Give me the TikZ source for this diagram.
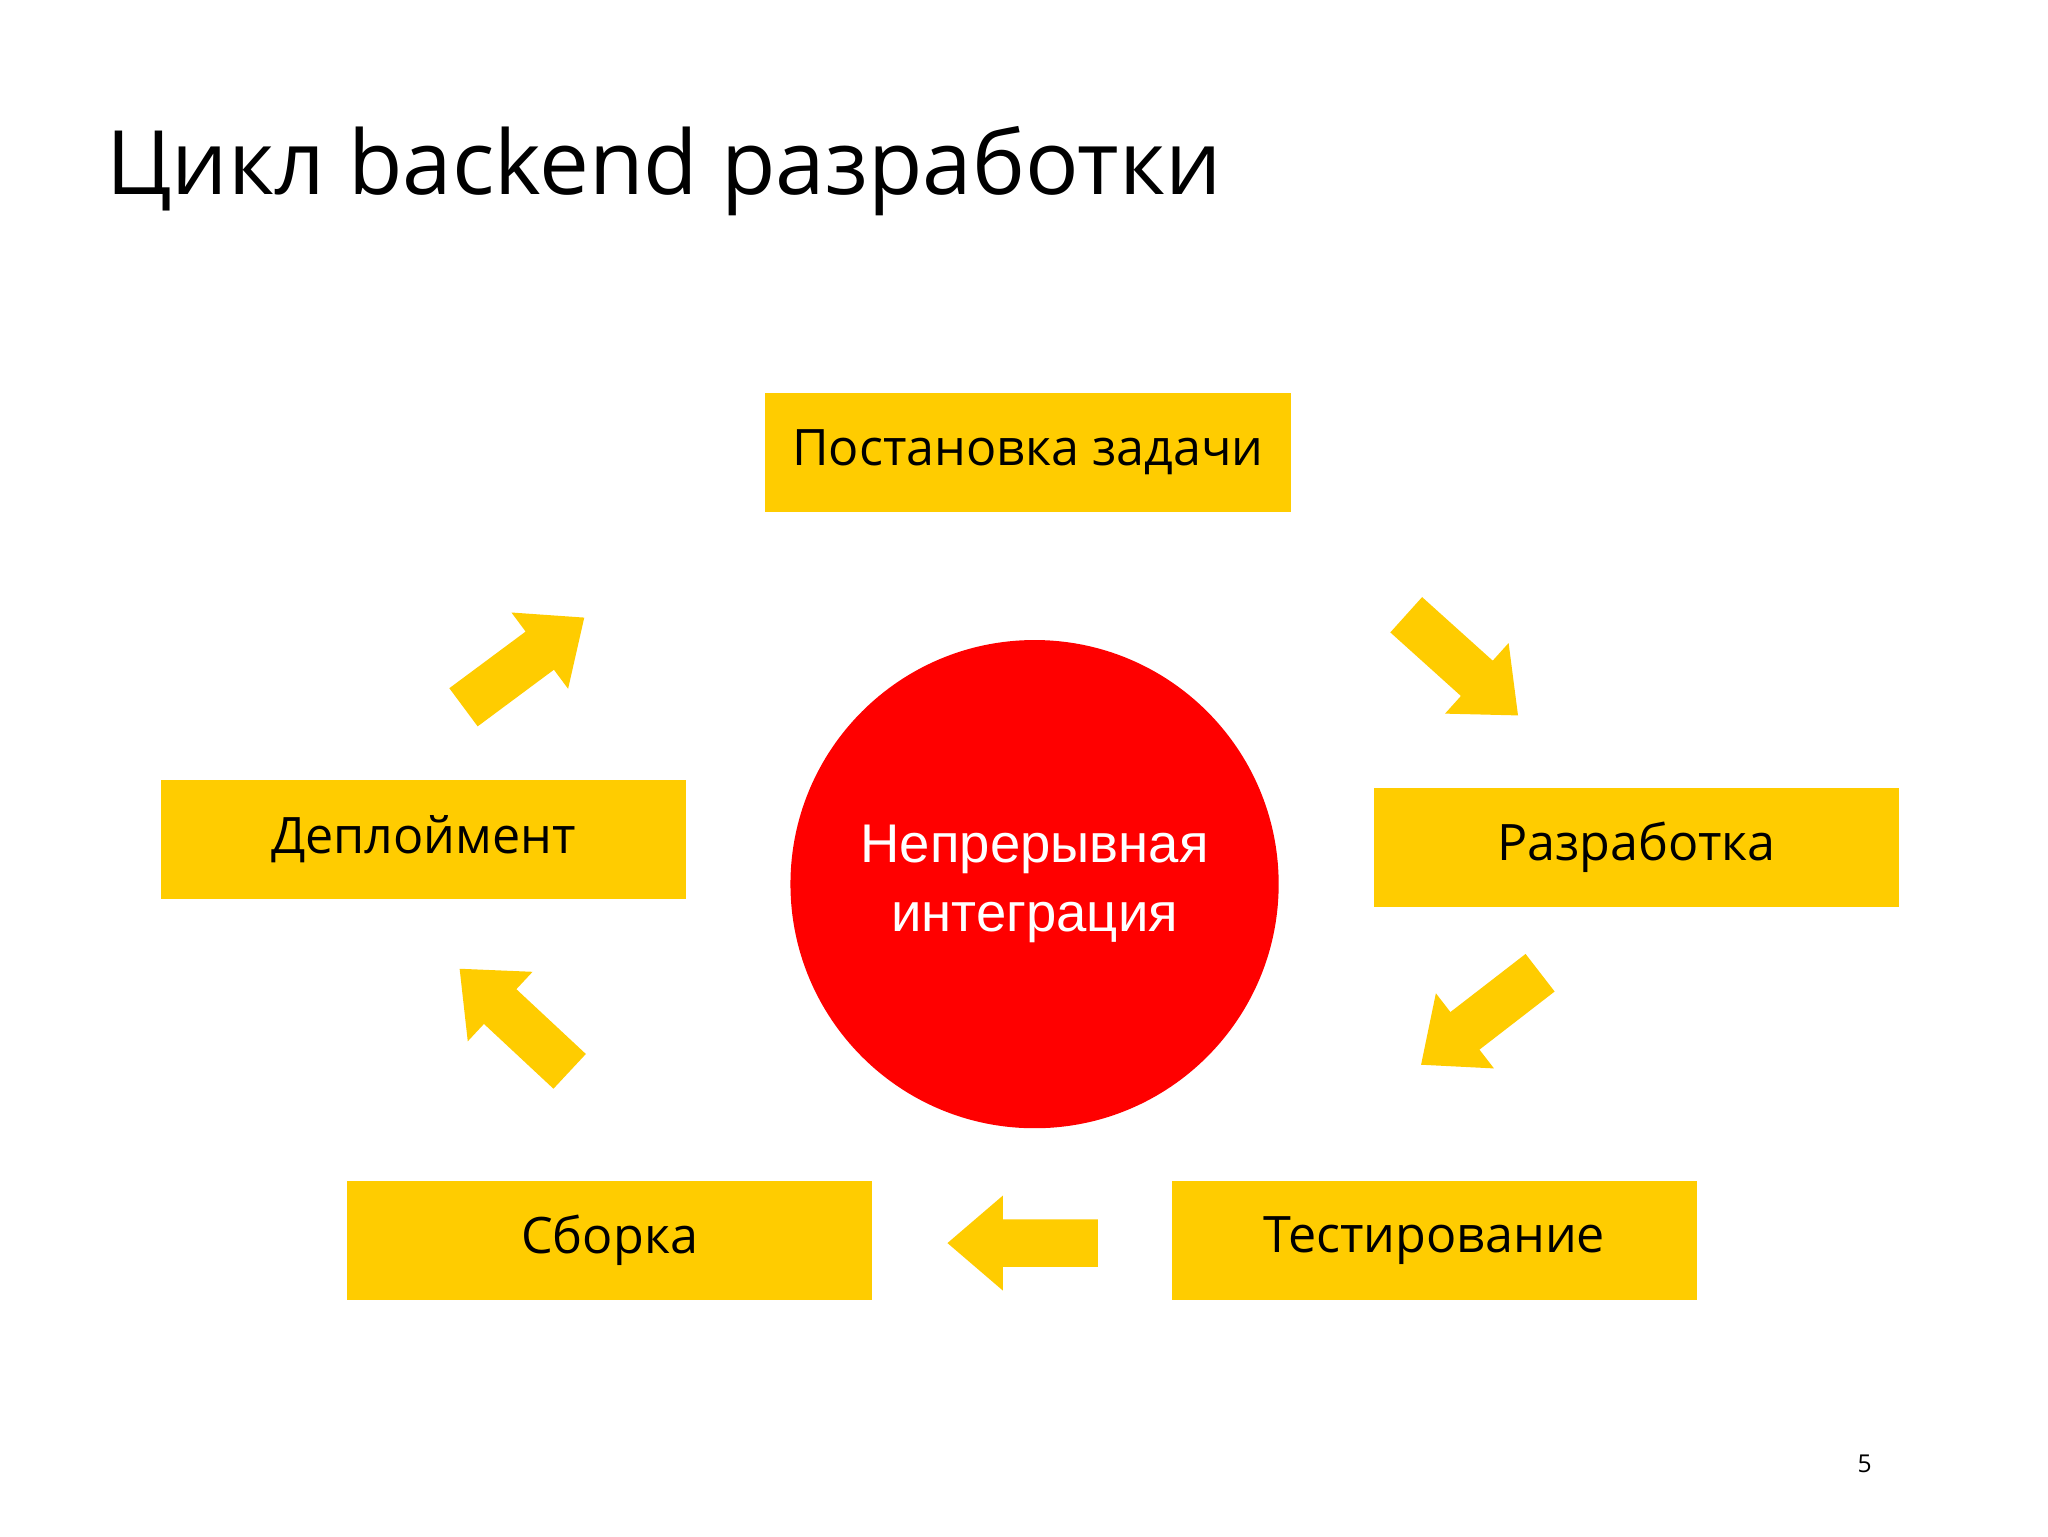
\documentclass[tikz,border=0pt]{standalone}
\usepackage{fontspec}
\setmainfont{Open Sans}
\newfontfamily\arialf{Liberation Sans}
\newcommand\px[1]{#1*0.3755pt}
\definecolor{ya}{HTML}{FFCC00}
\definecolor{rd}{HTML}{FF0000}
\tikzset{
  stagebox/.style={fill=ya,minimum width=\px{398},minimum height=\px{90},inner sep=0pt,font=\fontsize{14.3}{17}\selectfont},
}
\newcommand\blockarrow[3]{%
  \fill[ya,shift={(#1,#2)},rotate=#3] (-57,-18)--(15,-18)--(15,-36)--(57,0)--(15,36)--(15,18)--(-57,18)--cycle;}
\begin{document}
\begin{tikzpicture}[x=0.013196cm,y=-0.013196cm]
\useasboundingbox (0,0) rectangle (1552,1164);
\fill[white] (0,0) rectangle (1552,1164);
\node[anchor=west,inner sep=0pt,font=\fontsize{25.3}{30}\selectfont] (title) at (80,130) {Цикл backend разработки};
\node[stagebox] (task) at (779,343) {Постановка задачи};
\node[stagebox] (dev) at (1240,642) {Разработка};
\node[stagebox] (test) at (1087,940) {Тестирование};
\node[stagebox] (build) at (462,940) {Сборка};
\node[stagebox] (deploy) at (321,636) {Деплоймент};
\node[circle,fill=rd,minimum size=\px{370},inner sep=0pt,text=white,align=center,font=\arialf\fontsize{15.5}{19.5}\selectfont] (ci) at (784,670) {Непрерывная\\интеграция};
\blockarrow{397}{502}{36.6}
\blockarrow{1108}{504}{-42}
\blockarrow{1122}{772}{217.7}
\blockarrow{775}{942}{180}
\blockarrow{390}{773}{137}
\node[font=\fontsize{7}{8}\selectfont] (pg) at (1413,1109) {5};
\end{tikzpicture}
\end{document}
